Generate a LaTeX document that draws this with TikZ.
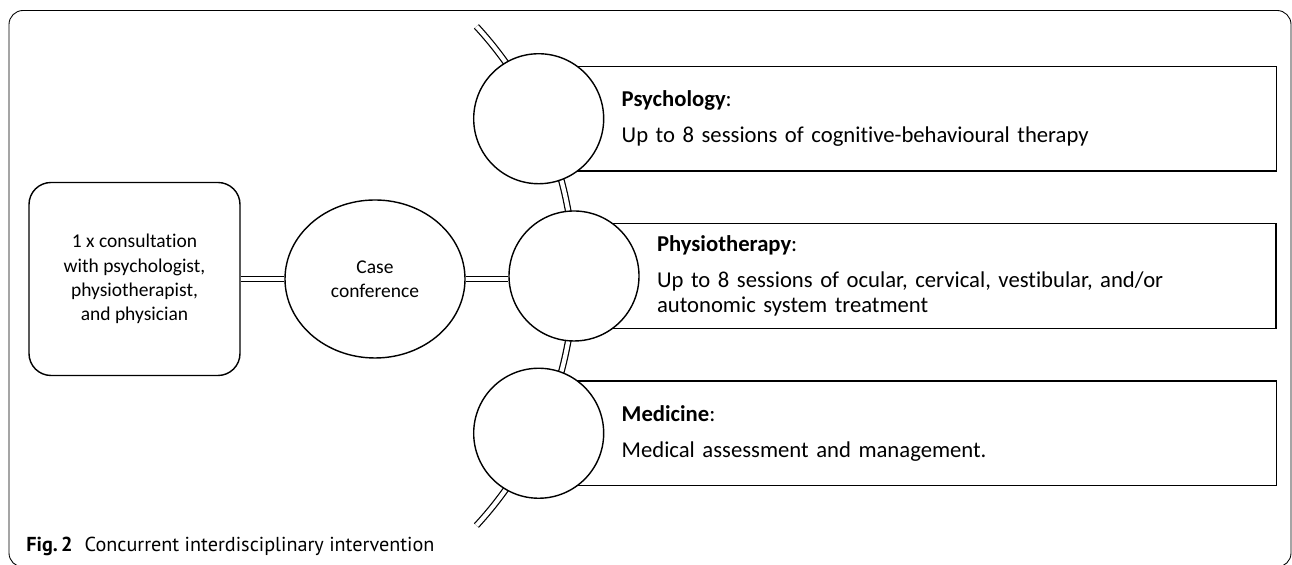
\documentclass[tikz,border=0pt]{standalone}
\usepackage{fontspec}
\setmainfont{Carlito}[Ligatures=NoCommon]
\newfontfamily\capfont{PT Sans}
\usetikzlibrary{calc, positioning, shapes.geometric}
\tikzset{link/.style={double, double distance=2.4pt, line width=0.7pt},
dot/.style={circle, draw, line width=0.8pt, fill=white, minimum size=2.6cm, inner sep=0pt},
panel/.style={rectangle, draw, line width=0.7pt, fill=white, anchor=west, outer sep=0pt, minimum height=2.09cm, inner xsep=1.66cm, align=left, font=\fontsize{12.9}{13.9}\selectfont},
small/.style={font=\fontsize{11.1}{13.8}\selectfont, align=center, draw, line width=0.8pt}}

\begin{document}
\begin{tikzpicture}
 \useasboundingbox (0,0) rectangle (25.84,11.3);
 \draw[line width=0.5pt, rounded corners=0.28cm] (0.18,-0.04) rectangle (25.82,11.09);

 \node[small, rounded corners=0.44cm, minimum width=4.22cm, minimum height=3.86cm] (consult) at (2.69,5.72) {1 x consultation\\with psychologist,\\physiotherapist,\\and physician};
 \node[small, ellipse, minimum width=3.6cm, minimum height=3.16cm, inner sep=0pt] (case) at (7.5,5.72) {Case\\conference};
 \draw[link] (consult) -- (case);

 \coordinate (hub) at (4.12,5.78);
 \coordinate (spinetop) at ($(hub)+(42.7:7.36)$);
 \draw[link] (spinetop) arc[start angle=42.7, end angle=-42.7, radius=7.36];

 \coordinate (psyc) at ($(hub)+(25.3:7.36)$);
 \coordinate (phyc) at ($(hub)+(0:7.36)$);
 \coordinate (medc) at ($(hub)+(-25.3:7.36)$);

 \node[panel, text width=11.43cm] (psybox) at (psyc) {\textbf{Psychology}:\\[6.5pt]Up to 8 sessions of cognitive-behavioural therapy};
 \node[panel, text width=10.72cm] (phybox) at (phyc) {\textbf{Physiotherapy}:\\[6.5pt]Up to 8 sessions of ocular, cervical, vestibular, and/or\\autonomic system treatment};
 \node[panel, text width=11.43cm] (medbox) at (medc) {\textbf{Medicine}:\\[6.5pt]Medical assessment and management.};

 \node[dot] (psy) at (psyc) {};
 \node[dot] (phy) at (phyc) {};
 \node[dot] (med) at (medc) {};
 \draw[link] (case.east) -- (case.east -| phy.west);

 \node[anchor=base west, inner sep=0pt, font=\capfont\fontsize{11.5}{13}\selectfont] (caption) at (0.52,0.26) {\textbf{Fig.\,2}\hspace*{0.24cm}Concurrent interdisciplinary intervention};
\end{tikzpicture}
\end{document}
